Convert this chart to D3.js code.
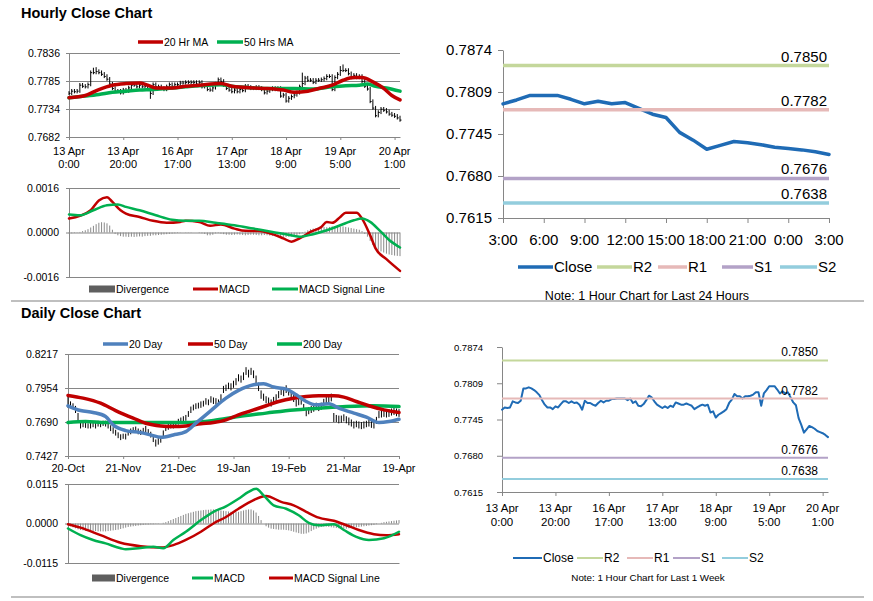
<!DOCTYPE html>
<html>
<head>
<meta charset="utf-8">
<script src="https://cdn.jsdelivr.net/npm/d3@7/dist/d3.min.js"></script>
<style>
  body { margin: 0; background: #fff; }
  svg text { font-family: "Liberation Sans", Arial, sans-serif; fill: #000; }
</style>
</head>
<body>
<svg id="chart" width="873" height="601"></svg>
<script>
// ---------- hourly data (last week, 1 hour bars) ----------
const hourClose = [0.7762,0.7766,0.7765,0.7766,0.7777,0.7775,0.7774,0.7778,0.7800,0.7800,
  0.7802,0.7800,0.7797,0.7793,0.7788,0.7779,0.7771,0.7766,0.7766,0.7763,
  0.7768,0.7766,0.7772,0.7777,0.7777,0.7774,0.7777,0.7774,0.7775,0.7771,
  0.7762,0.7778,0.7774,0.7774,0.7771,0.7769,0.7774,0.7778,0.7775,0.7778,
  0.7778,0.7781,0.7781,0.7782,0.7782,0.7782,0.7782,0.7779,0.7782,0.7774,
  0.7777,0.7769,0.7768,0.7772,0.7779,0.7787,0.7784,0.7777,0.7771,0.7768,
  0.7765,0.7768,0.7765,0.7769,0.7767,0.7775,0.7773,0.7771,0.7771,0.7773,
  0.7771,0.7769,0.7763,0.7766,0.7769,0.7771,0.7769,0.7771,0.7757,0.7759,
  0.7748,0.7753,0.7756,0.7759,0.7763,0.7774,0.7780,0.7790,0.7786,0.7786,
  0.7782,0.7786,0.7786,0.7787,0.7789,0.7793,0.7793,0.7769,0.7791,0.7797,
  0.7804,0.7804,0.7804,0.7798,0.7791,0.7795,0.7791,0.7793,0.7784,0.7775,
  0.7770,0.7747,0.7735,0.7721,0.7727,0.7733,0.7731,0.7728,0.7724,0.7722,
  0.7720,0.7717,0.7713];
const hourHigh = [0.7766,0.7770,0.7770,0.7770,0.7781,0.7781,0.7779,0.7782,0.7804,0.7809,
  0.7810,0.7806,0.7804,0.7801,0.7797,0.7792,0.7783,0.7775,0.7770,0.7770,
  0.7772,0.7772,0.7776,0.7781,0.7781,0.7781,0.7781,0.7781,0.7779,0.7779,
  0.7775,0.7782,0.7782,0.7778,0.7778,0.7775,0.7778,0.7782,0.7782,0.7782,
  0.7782,0.7785,0.7785,0.7786,0.7786,0.7786,0.7786,0.7786,0.7786,0.7786,
  0.7781,0.7781,0.7773,0.7776,0.7783,0.7791,0.7791,0.7788,0.7781,0.7775,
  0.7772,0.7772,0.7772,0.7773,0.7773,0.7779,0.7779,0.7777,0.7775,0.7777,
  0.7777,0.7775,0.7773,0.7770,0.7773,0.7775,0.7775,0.7775,0.7775,0.7763,
  0.7763,0.7757,0.7760,0.7763,0.7767,0.7778,0.7800,0.7794,0.7794,0.7790,
  0.7790,0.7790,0.7790,0.7791,0.7793,0.7797,0.7797,0.7797,0.7795,0.7801,
  0.7812,0.7815,0.7808,0.7808,0.7802,0.7799,0.7799,0.7797,0.7797,0.7788,
  0.7779,0.7774,0.7751,0.7739,0.7731,0.7737,0.7737,0.7735,0.7732,0.7728,
  0.7726,0.7724,0.7721];
const hourLow = [0.7759,0.7759,0.7762,0.7762,0.7763,0.7772,0.7771,0.7771,0.7775,0.7797,
  0.7797,0.7797,0.7794,0.7790,0.7785,0.7776,0.7768,0.7763,0.7763,0.7760,
  0.7760,0.7763,0.7763,0.7769,0.7774,0.7771,0.7771,0.7771,0.7771,0.7768,
  0.7752,0.7759,0.7771,0.7771,0.7768,0.7766,0.7766,0.7771,0.7772,0.7772,
  0.7775,0.7775,0.7778,0.7778,0.7779,0.7779,0.7779,0.7776,0.7776,0.7771,
  0.7771,0.7766,0.7765,0.7765,0.7769,0.7776,0.7781,0.7774,0.7768,0.7765,
  0.7762,0.7762,0.7762,0.7762,0.7764,0.7764,0.7770,0.7768,0.7768,0.7768,
  0.7768,0.7766,0.7760,0.7760,0.7763,0.7766,0.7766,0.7766,0.7754,0.7754,
  0.7745,0.7745,0.7750,0.7753,0.7756,0.7760,0.7771,0.7777,0.7783,0.7783,
  0.7779,0.7779,0.7783,0.7783,0.7784,0.7786,0.7790,0.7766,0.7766,0.7788,
  0.7794,0.7801,0.7801,0.7795,0.7788,0.7788,0.7788,0.7788,0.7781,0.7772,
  0.7767,0.7744,0.7732,0.7718,0.7718,0.7724,0.7728,0.7725,0.7721,0.7719,
  0.7717,0.7714,0.7710];

// moving averages read at sample bars
const ma20hIdx = [0,6,11,16,21,26,29,32,38,43,48,56,60,68,73,79,83,88,92,97,101,105,108,112,116,119,122];
const ma20hVal = [0.7754,0.7758,0.7769,0.7777,0.7780,0.7781,0.7777,0.7772,0.7772,0.7775,0.7777,0.7780,0.7775,0.7772,0.7771,0.7768,0.7764,0.7766,0.7771,0.7777,0.7786,0.7791,0.7791,0.7783,0.7771,0.7758,0.7750];
const ma50hIdx = [0,6,11,16,21,26,31,36,43,48,56,60,68,76,83,90,97,102,107,110,113,117,122];
const ma50hVal = [0.7754,0.7757,0.7760,0.7764,0.7766,0.7768,0.7769,0.7771,0.7774,0.7776,0.7778,0.7775,0.7772,0.7771,0.7771,0.7770,0.7774,0.7776,0.7777,0.7779,0.7775,0.7772,0.7766];

// hourly MACD
const macdHIdx = [0,4,8,11,14,16,19,21,26,31,36,41,43,48,52,56,61,65,70,75,79,82,85,89,93,95,97,100,102,106,108,111,113,117,122];
const macdHVal = [0.0005,0.0006,0.0008,0.00115,0.00127,0.0011,0.0008,0.00068,0.00056,0.00042,0.00035,0.00038,0.00042,0.00038,0.00024,0.00029,0.00014,0.00006,0.00005,-0.00006,-0.00021,-0.00033,-0.00021,0.00002,0.0002,0.00038,0.00035,0.00056,0.00071,0.00071,0.0005,-0.0001,-0.00057,-0.00096,-0.00138];
const sigHIdx = [0,4,9,14,18,21,26,32,38,43,48,54,61,68,75,80,85,90,95,100,105,108,111,115,118,122];
const sigHVal = [0.00065,0.00062,0.0008,0.00098,0.00101,0.00092,0.0008,0.00062,0.00046,0.00042,0.00042,0.00035,0.00026,0.00014,0.00002,-0.00006,-0.00015,-0.00006,0.00008,0.00026,0.00044,0.0005,0.00038,0.00002,-0.00027,-0.00054];
const divH = [-0.00003,-0.00003,-0.00002,-0.00001,0.00002,
  0.00005,0.00008,0.00012,0.00018,0.00024,
  0.0003,0.00035,0.00037,0.00036,0.00033,0.00025,0.0001,
  -0.00005,-0.0001,-0.00013,-0.00015,-0.00015,-0.00016,-0.00015,-0.00016,-0.00015,-0.00014,-0.00015,-0.00013,-0.00012,
  -0.00012,-0.0001,-0.0001,-0.00009,-0.00008,-0.00007,-0.00006,-0.00005,-0.00004,-0.00003,-0.00002,-0.00001,
  0,0.00001,0.00001,0.00001,0,0,-0.00002,-0.00003,-0.00005,
  -0.0001,-0.0001,-0.00008,
  -0.00003,-0.00002,-0.00004,-0.00006,-0.00008,-0.00008,-0.00009,-0.00008,-0.00007,-0.00008,-0.00009,-0.0001,-0.00009,-0.00008,-0.00008,-0.00009,-0.0001,-0.0001,-0.00009,
  -0.0001,-0.00011,-0.00012,-0.00013,-0.00014,-0.00015,-0.00016,-0.00016,-0.00015,-0.00014,-0.00012,-0.0001,-0.00006,-0.00002,0.00003,
  0.00008,0.00012,0.00014,0.00015,0.00016,0.00018,0.0002,0.00019,0.0002,0.00022,0.00022,0.0002,0.00021,0.00022,0.0002,0.00018,0.00016,0.00014,0.00012,0.0001,
  0.00005,-0.00005,-0.00015,-0.0003,-0.00045,-0.00055,-0.00062,-0.00068,-0.00072,-0.00076,-0.00079,-0.00081,-0.00083,-0.00084,-0.00085];

const hourTickIdx = [0,20,40,60,80,100,120];
const hourTickDay = ["13 Apr","13 Apr","16 Apr","17 Apr","18 Apr","19 Apr","20 Apr"];
const hourTickTime = ["0:00","20:00","17:00","13:00","9:00","5:00","1:00"];
const hourYLabels = ["0.7682","0.7734","0.7785","0.7836"];
const macdHYLabels = ["-0.0016","0.0000","0.0016"];

// ---------- last 24 hours ----------
const last24Close = [0.7791,0.7797,0.7804,0.7804,0.7804,0.7798,0.7791,0.7795,0.7791,0.7793,
  0.7784,0.7775,0.7770,0.7747,0.7735,0.7721,0.7727,0.7733,0.7731,0.7728,
  0.7724,0.7722,0.7720,0.7717,0.7713];
const last24TickIdx = [0,3,6,9,12,15,18,21,24];
const last24TickLabels = ["3:00","6:00","9:00","12:00","15:00","18:00","21:00","0:00","3:00"];
const pivotYLabels = ["0.7615","0.7680","0.7745","0.7809","0.7874"];

// pivot levels
const levelNames = ["R2","R1","S1","S2"];
const levelValues = [0.7850,0.7782,0.7676,0.7638];

// ---------- daily data ----------
const dayHigh = [0.7888,0.7850,0.7835,0.7815,0.7760,0.7700,0.7695,0.7690,0.7680,0.7685,
  0.7695,0.7685,0.7700,0.7690,0.7700,0.7700,0.7680,0.7665,0.7650,0.7630,
  0.7610,0.7595,0.7600,0.7600,0.7625,0.7640,0.7650,0.7655,0.7640,0.7630,
  0.7645,0.7660,0.7635,0.7615,0.7590,0.7555,0.7565,0.7580,0.7625,0.7665,
  0.7675,0.7685,0.7685,0.7690,0.7715,0.7725,0.7735,0.7745,0.7775,0.7810,
  0.7825,0.7835,0.7840,0.7850,0.7855,0.7875,0.7865,0.7890,0.7880,0.7875,
  0.7865,0.7905,0.7970,0.7980,0.7995,0.7990,0.8010,0.8030,0.8060,0.8050,
  0.8075,0.8115,0.8095,0.8110,0.8090,0.8050,0.7995,0.7935,0.7910,0.7890,
  0.7880,0.7865,0.7885,0.7905,0.7930,0.7960,0.7945,0.7975,0.7950,0.7930,
  0.7900,0.7865,0.7875,0.7880,0.7830,0.7790,0.7805,0.7815,0.7825,0.7840,
  0.7830,0.7840,0.7870,0.7895,0.7905,0.7910,0.7760,0.7745,0.7740,0.7740,
  0.7750,0.7735,0.7725,0.7710,0.7695,0.7700,0.7695,0.7690,0.7695,0.7700,
  0.7710,0.7700,0.7695,0.7730,0.7775,0.7780,0.7790,0.7780,0.7790,0.7795,
  0.7800,0.7795,0.7790];
const dayLow = [0.7800,0.7800,0.7790,0.7760,0.7700,0.7640,0.7650,0.7645,0.7640,0.7640,
  0.7650,0.7640,0.7655,0.7650,0.7660,0.7655,0.7640,0.7620,0.7600,0.7585,
  0.7565,0.7550,0.7560,0.7555,0.7585,0.7595,0.7605,0.7610,0.7595,0.7590,
  0.7600,0.7610,0.7590,0.7570,0.7535,0.7500,0.7515,0.7530,0.7575,0.7620,
  0.7630,0.7640,0.7640,0.7645,0.7670,0.7680,0.7690,0.7700,0.7730,0.7760,
  0.7780,0.7790,0.7795,0.7800,0.7810,0.7825,0.7820,0.7840,0.7830,0.7825,
  0.7815,0.7850,0.7915,0.7930,0.7945,0.7935,0.7955,0.7975,0.8005,0.7995,
  0.8015,0.8055,0.8035,0.8055,0.8030,0.7990,0.7930,0.7870,0.7855,0.7835,
  0.7825,0.7810,0.7830,0.7850,0.7875,0.7900,0.7890,0.7915,0.7895,0.7875,
  0.7845,0.7810,0.7820,0.7825,0.7775,0.7735,0.7750,0.7760,0.7770,0.7785,
  0.7775,0.7785,0.7815,0.7835,0.7845,0.7850,0.7690,0.7690,0.7680,0.7685,
  0.7695,0.7680,0.7665,0.7655,0.7640,0.7650,0.7640,0.7635,0.7640,0.7650,
  0.7655,0.7645,0.7640,0.7675,0.7720,0.7725,0.7730,0.7725,0.7730,0.7740,
  0.7745,0.7735,0.7730];

const ma20dIdx = [0,5,10,15,18,23,29,33,37,42,47,51,57,63,68,74,78,82,87,91,95,99,104,108,114,119,124,128,132];
const ma20dVal = [0.7816,0.7779,0.7764,0.7733,0.7668,0.7624,0.7608,0.7590,0.7572,0.7590,0.7616,0.7681,0.7779,0.7875,0.7935,0.7979,0.7987,0.7961,0.7945,0.7901,0.7849,0.7823,0.7831,0.7797,0.7759,0.7728,0.7686,0.7694,0.7712];
const ma50dIdx = [0,6,13,19,26,31,37,42,47,53,58,63,68,74,79,84,90,95,100,106,110,115,120,126,132];
const ma50dVal = [0.7896,0.7875,0.7836,0.7779,0.7720,0.7681,0.7660,0.7655,0.7660,0.7676,0.7686,0.7707,0.7746,0.7784,0.7816,0.7849,0.7875,0.7888,0.7893,0.7893,0.7883,0.7849,0.7816,0.7784,0.7764];
const ma200dIdx = [0,7,15,26,37,47,58,68,79,90,100,111,122,132];
const ma200dVal = [0.7686,0.7694,0.7686,0.7686,0.7686,0.7686,0.7702,0.7733,0.7759,0.7784,0.7797,0.7810,0.7816,0.7810];

const macdDIdx = [0,5,10,15,21,23,29,34,38,42,47,53,58,63,68,72,75,78,82,87,92,96,100,106,110,115,120,126,132];
const macdDVal = [-0.00145,-0.0034,-0.0048,-0.0058,-0.0072,-0.0075,-0.0071,-0.0068,-0.0072,-0.0048,-0.0024,0.001,0.0034,0.005,0.0072,0.0092,0.0101,0.0082,0.0053,0.0043,0.0024,0.0002,-0.0005,-0.0002,-0.0019,-0.0039,-0.0048,-0.0043,-0.0024];
const sigDIdx = [0,5,13,21,29,37,42,47,53,58,63,68,74,79,85,90,95,100,106,111,116,122,127,132];
const sigDVal = [-0.0002,-0.0012,-0.0034,-0.0056,-0.0066,-0.007,-0.0063,-0.0048,-0.0024,0.0,0.0019,0.0043,0.0068,0.008,0.0063,0.0053,0.0034,0.0017,0.0008,-0.0005,-0.0019,-0.0031,-0.0034,-0.0031];
const divD = [-0.0005,-0.0008,-0.0011,-0.0014,-0.0017,
  -0.0019,-0.002,-0.0021,-0.0021,-0.0022,
  -0.0022,-0.0022,-0.0023,-0.0023,-0.0023,
  -0.0023,-0.0022,-0.0021,-0.002,-0.0019,
  -0.0018,-0.0016,-0.0014,-0.0012,-0.001,
  -0.0009,-0.0008,-0.0007,-0.0006,-0.0005,
  -0.0004,-0.0003,-0.0003,-0.0002,-0.0002,
  -0.0001,-0.0001,0.0,0.0002,0.0004,
  0.0007,0.001,0.0013,0.0016,0.0019,
  0.0022,0.0025,0.0028,0.003,0.0032,
  0.0034,0.0036,0.0037,0.0038,0.0039,
  0.004,0.004,0.0041,0.0041,0.004,
  0.0039,0.0038,0.0037,0.0036,0.0035,
  0.0034,0.0033,0.0033,0.0034,0.0036,
  0.0038,0.004,0.0041,0.0041,0.0038,
  0.0032,0.0022,0.001,0.0,-0.0008,
  -0.0012,-0.0015,-0.0016,-0.0017,-0.0018,
  -0.0018,-0.0018,-0.0019,-0.002,-0.0022,
  -0.0024,-0.0026,-0.0028,-0.003,-0.003,
  -0.0029,-0.0026,-0.0022,-0.0018,-0.0015,
  -0.0012,-0.001,-0.0009,-0.0009,-0.001,
  -0.0011,-0.0012,-0.0013,-0.0014,-0.0015,
  -0.0015,-0.0015,-0.0014,-0.0013,-0.0012,
  -0.0011,-0.001,-0.0009,-0.0008,-0.0007,
  -0.0006,-0.0005,-0.0004,-0.0002,0.0,
  0.0002,0.0004,0.0005,0.0006,0.0007,
  0.0008,0.0009,0.001];

const dayTickIdx = [0,22,44,66,88,110,132];
const dayTickLabels = ["20-Oct","21-Nov","21-Dec","19-Jan","19-Feb","21-Mar","19-Apr"];
const dayYLabels = ["0.7427","0.7690","0.7954","0.8217"];
const macdDYLabels = ["-0.0115","0.0000","0.0115"];

const hourMaNames = ["20 Hr MA","50 Hrs MA"];
const dayMaNames = ["20 Day","50 Day","200 Day"];
const macdNames = ["Divergence","MACD","MACD Signal Line"];

// ---------- styles ----------
const FONT = '"Liberation Sans", Arial, sans-serif';
const GRID = "#868686";
const RED = "#C00000", GREEN = "#00B050", MABLUE = "#4F81BD";
const DIVC = "#8a8a8a", DIVBOX = "#5f5f5f";
const CLOSE = "#1F6BB5";
const levelColors = ["#C4D79B","#E6B9B8","#B3A2C7","#93CDDD"];

const svg = d3.select("#chart");

// one plot area: linear index x scale, y scale spanning the tick labels
function panel(o) {
  const g = svg.append("g");
  const x = d3.scaleLinear().domain([0, o.n - 1]).range([o.x0, o.x1]);
  const lo = +o.yLabels[0], hi = +o.yLabels[o.yLabels.length - 1];
  const y = d3.scaleLinear().domain([lo, hi]).range([o.yBot, o.yTop]);
  const tv = o.yLabels.map((d, i) => lo + (hi - lo) * i / (o.yLabels.length - 1));

  if (o.grid) {
    g.append("g")
      .attr("transform", "translate(" + o.x0 + ",0)")
      .call(d3.axisLeft(y).tickValues(tv).tickSize(-(o.x1 - o.x0)).tickFormat(""))
      .call(a => a.select(".domain").remove())
      .selectAll("line").attr("stroke", GRID);
  }
  const ya = g.append("g")
    .attr("transform", "translate(" + o.x0 + ",0)")
    .call(d3.axisLeft(y).tickValues(tv).tickSizeInner(o.tick).tickSizeOuter(0)
      .tickPadding(o.pad).tickFormat((d, i) => o.yLabels[i]))
    .attr("font-family", FONT).attr("font-size", o.fs);
  ya.select(".domain").attr("stroke", GRID);
  ya.selectAll("line").attr("stroke", GRID);
  ya.selectAll("text").attr("fill", "#000");

  const xa = g.append("g")
    .attr("transform", "translate(0," + o.yBot + ")")
    .call(d3.axisBottom(x).tickValues(o.xTicks || []).tickSizeInner(o.xTick || 0)
      .tickSizeOuter(0).tickFormat(""));
  xa.select(".domain").attr("stroke", GRID);
  xa.selectAll("line").attr("stroke", GRID);
  return { g, x, y, o };
}

function xLabels(p, idx, rows, off, lh, fs) {
  p.g.append("g").selectAll("text").data(idx).join("text")
    .attr("text-anchor", "middle").attr("font-size", fs)
    .attr("y", p.o.yBot + off)
    .each(function (d, i) {
      const t = d3.select(this);
      rows.forEach((r, k) => t.append("tspan").attr("x", p.x(d)).attr("dy", k ? lh : 0).text(r[i]));
    });
}

function seriesLine(p, idx, vals, color, w, curve) {
  const line = d3.line().x((d, i) => p.x(idx[i])).y(d => p.y(d));
  if (curve) line.curve(d3.curveMonotoneX);
  p.g.append("path").datum(vals).attr("d", line)
    .attr("fill", "none").attr("stroke", color).attr("stroke-width", w)
    .attr("stroke-linejoin", "round").attr("stroke-linecap", "round");
}

function ohlc(p, hiArr, loArr) {
  p.g.append("g").selectAll("line").data(hiArr).join("line")
    .attr("x1", (d, i) => p.x(i)).attr("x2", (d, i) => p.x(i))
    .attr("y1", d => p.y(d)).attr("y2", (d, i) => p.y(loArr[i]))
    .attr("stroke", "#000").attr("stroke-width", 1);
}

function divergence(p, vals) {
  p.g.append("g").selectAll("rect").data(vals).join("rect")
    .attr("x", (d, i) => p.x(i) - 0.5).attr("width", 1)
    .attr("y", d => Math.min(p.y(d), p.y(0)))
    .attr("height", d => Math.abs(p.y(d) - p.y(0)))
    .attr("fill", DIVC);
}

function legend(y, items, fs) {
  items.forEach(it => {
    if (it.box) {
      svg.append("rect").attr("x", it.x0).attr("y", y - 3.5)
        .attr("width", it.x1 - it.x0).attr("height", 7).attr("fill", it.color);
    } else {
      svg.append("line").attr("x1", it.x0).attr("x2", it.x1).attr("y1", y).attr("y2", y)
        .attr("stroke", it.color).attr("stroke-width", it.sw);
    }
    svg.append("text").attr("x", it.x1 + 1).attr("y", y).attr("dy", "0.35em")
      .attr("font-size", fs).text(it.label);
  });
}

function levels(p, w, fs, labelRight, labelOff) {
  levelValues.forEach((v, k) => {
    p.g.append("line").attr("x1", p.o.x0).attr("x2", p.o.x1)
      .attr("y1", p.y(v)).attr("y2", p.y(v))
      .attr("stroke", levelColors[k]).attr("stroke-width", w);
    p.g.append("text").attr("x", labelRight).attr("y", p.y(v) - labelOff)
      .attr("text-anchor", "end").attr("font-size", fs).text(v.toFixed(4));
  });
}

// ---------- titles & separators ----------
svg.append("text").attr("x", 21).attr("y", 18).attr("font-size", 14.5)
  .attr("font-weight", "bold").text("Hourly Close Chart");
svg.append("text").attr("x", 21).attr("y", 318).attr("font-size", 14.5)
  .attr("font-weight", "bold").text("Daily Close Chart");

// ---------- hourly price ----------
const pA = panel({ x0: 69, x1: 400, yTop: 53, yBot: 137, n: hourClose.length,
  yLabels: hourYLabels, grid: true, fs: 10.5, tick: 3, pad: 6, xTicks: hourTickIdx, xTick: 3 });
ohlc(pA, hourHigh, hourLow);
pA.g.append("g").selectAll("line").data(hourClose).join("line")
  .attr("x1", (d, i) => pA.x(i)).attr("x2", (d, i) => pA.x(i) + 1.5)
  .attr("y1", d => pA.y(d)).attr("y2", d => pA.y(d))
  .attr("stroke", "#000").attr("stroke-width", 1);
seriesLine(pA, ma50hIdx, ma50hVal, GREEN, 3.5, true);
seriesLine(pA, ma20hIdx, ma20hVal, RED, 3.5, true);
xLabels(pA, hourTickIdx, [hourTickDay, hourTickTime], 18, 13, 11);
legend(42, [
  { x0: 138, x1: 163, color: RED, sw: 3.5, label: hourMaNames[0] },
  { x0: 217, x1: 243, color: GREEN, sw: 3.5, label: hourMaNames[1] }
], 10.5);

// ---------- hourly MACD ----------
const pB = panel({ x0: 69, x1: 400, yTop: 188, yBot: 277, n: hourClose.length,
  yLabels: macdHYLabels, grid: true, fs: 10.5, tick: 3, pad: 7 });
divergence(pB, divH);
seriesLine(pB, macdHIdx, macdHVal, RED, 2.5, true);
seriesLine(pB, sigHIdx, sigHVal, GREEN, 2.5, true);
legend(289, [
  { x0: 89, x1: 115, color: DIVBOX, box: true, label: macdNames[0] },
  { x0: 193, x1: 218, color: RED, sw: 3, label: macdNames[1] },
  { x0: 272, x1: 298, color: GREEN, sw: 3, label: macdNames[2] }
], 10.5);

// ---------- last 24 hours with pivots ----------
const pC = panel({ x0: 503, x1: 829, yTop: 50, yBot: 218, n: last24Close.length,
  yLabels: pivotYLabels, grid: false, fs: 15, tick: 5, pad: 6, xTicks: last24TickIdx, xTick: 5 });
seriesLine(pC, d3.range(last24Close.length), last24Close, CLOSE, 3.5, false);
levels(pC, 3.5, 15, 827, 4);
xLabels(pC, last24TickIdx, [last24TickLabels], 27, 0, 15);
legend(267, [
  { x0: 518, x1: 553, color: CLOSE, sw: 3.5, label: "Close" },
  { x0: 597, x1: 632, color: levelColors[0], sw: 3.5, label: levelNames[0] },
  { x0: 658, x1: 687, color: levelColors[1], sw: 3.5, label: levelNames[1] },
  { x0: 722, x1: 753, color: levelColors[2], sw: 3.5, label: levelNames[2] },
  { x0: 780, x1: 817, color: levelColors[3], sw: 3.5, label: levelNames[3] }
], 15);
svg.append("text").attr("x", 647).attr("y", 300).attr("text-anchor", "middle")
  .attr("font-size", 12.5).text("Note: 1 Hour Chart for Last 24 Hours");

// ---------- daily price ----------
const pD = panel({ x0: 68, x1: 399, yTop: 354, yBot: 456, n: dayHigh.length,
  yLabels: dayYLabels, grid: true, fs: 10.5, tick: 3, pad: 7, xTicks: dayTickIdx, xTick: 3 });
ohlc(pD, dayHigh, dayLow);
seriesLine(pD, ma200dIdx, ma200dVal, GREEN, 3.5, true);
seriesLine(pD, ma50dIdx, ma50dVal, RED, 3.5, true);
seriesLine(pD, ma20dIdx, ma20dVal, MABLUE, 3.5, true);
xLabels(pD, dayTickIdx, [dayTickLabels], 16, 0, 11);
legend(344, [
  { x0: 103, x1: 128, color: MABLUE, sw: 3.5, label: dayMaNames[0] },
  { x0: 188, x1: 213, color: RED, sw: 3.5, label: dayMaNames[1] },
  { x0: 277, x1: 302, color: GREEN, sw: 3.5, label: dayMaNames[2] }
], 10.5);

// ---------- daily MACD ----------
const pE = panel({ x0: 68, x1: 399, yTop: 484, yBot: 563, n: dayHigh.length,
  yLabels: macdDYLabels, grid: true, fs: 10.5, tick: 3, pad: 7 });
divergence(pE, divD);
seriesLine(pE, sigDIdx, sigDVal, RED, 2.5, true);
seriesLine(pE, macdDIdx, macdDVal, GREEN, 2.5, true);
legend(578, [
  { x0: 92, x1: 115, color: DIVBOX, box: true, label: macdNames[0] },
  { x0: 192, x1: 213, color: GREEN, sw: 3, label: macdNames[1] },
  { x0: 269, x1: 293, color: RED, sw: 3, label: macdNames[2] }
], 10.5);

// ---------- last week with pivots ----------
const pF = panel({ x0: 502, x1: 828, yTop: 347, yBot: 492, n: hourClose.length,
  yLabels: pivotYLabels, grid: false, fs: 9.5, tick: 5, pad: 14, xTicks: hourTickIdx, xTick: 4 });
seriesLine(pF, d3.range(hourClose.length), hourClose, CLOSE, 2, false);
levels(pF, 2, 12, 818, 4);
xLabels(pF, hourTickIdx, [hourTickDay, hourTickTime], 19.5, 14, 11.5);
legend(558, [
  { x0: 513, x1: 542, color: CLOSE, sw: 2, label: "Close" },
  { x0: 577, x1: 603, color: levelColors[0], sw: 2, label: levelNames[0] },
  { x0: 627, x1: 653, color: levelColors[1], sw: 2, label: levelNames[1] },
  { x0: 673, x1: 700, color: levelColors[2], sw: 2, label: levelNames[2] },
  { x0: 722, x1: 748, color: levelColors[3], sw: 2, label: levelNames[3] }
], 12);
svg.append("text").attr("x", 648).attr("y", 581).attr("text-anchor", "middle")
  .attr("font-size", 9.8).text("Note: 1 Hour Chart for Last 1 Week");

// separators
[301, 597].forEach(yy => svg.append("line").attr("x1", 11).attr("x2", 864)
  .attr("y1", yy).attr("y2", yy).attr("stroke", "#808080").attr("stroke-width", 1.2));
</script>
</body>
</html>
